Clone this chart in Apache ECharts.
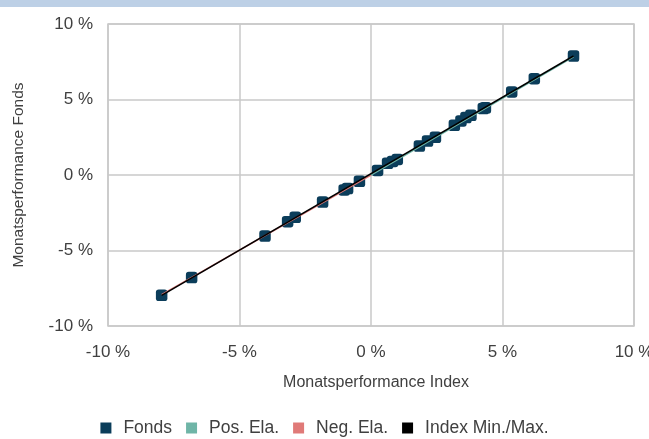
<!DOCTYPE html>
<html>
<head>
<meta charset="utf-8">
<script src="https://cdn.jsdelivr.net/npm/echarts@6/dist/echarts.min.js"></script>
<style>html,body{margin:0;padding:0;background:#fff}#c{width:649px;height:439px}</style>
</head>
<body>
<div id="c"></div>
<script>
// Monthly performance (%) — index (x) vs fund (y)
const fondsX = [-7.96, -6.82, -4.03, -3.17, -2.88, -1.84, -1.02, -0.89, -0.44, 0.25, 0.63, 0.82, 1.0, 1.84, 2.15, 2.45, 3.17, 3.42, 3.61, 3.8, 4.27, 4.35, 5.35, 6.21, 7.7];
const fondsY = [-7.97, -6.79, -4.04, -3.09, -2.80, -1.79, -0.99, -0.90, -0.42, 0.30, 0.77, 0.90, 1.03, 1.92, 2.25, 2.50, 3.29, 3.58, 3.80, 3.95, 4.40, 4.45, 5.50, 6.38, 7.88];
const posElaX = [0, 7.7];
const posElaY = [0, 7.82];
const negElaX = [-7.96, 0];
const negElaY = [-7.92, 0];
const indexMinMaxX = [-7.96, 7.7];
const indexMinMaxY = [-7.97, 7.88];
const axisTicks = [-10, -5, 0, 5, 10];
const seriesNames = ['Fonds', 'Pos. Ela.', 'Neg. Ela.', 'Index Min./Max.'];
const colors = ['#0b3d5a', '#6fb5a7', '#e07a78', '#000000'];

const pairs = (xs, ys) => xs.map((x, i) => [x, ys[i]]);
const font = 'Liberation Sans, Arial, sans-serif';
const chart = echarts.init(document.getElementById('c'), null, {renderer: 'canvas'});
chart.setOption({
  animation: false,
  textStyle: {fontFamily: font},
  graphic: [{type: 'rect', shape: {x: 0, y: 0, width: 649, height: 7}, style: {fill: '#bdd0e6'}, silent: true}],
  grid: {left: 108, right: 15, top: 24, bottom: 113, show: true, borderColor: '#c8c8c8', borderWidth: 1.5,
         containLabel: false, outerBoundsMode: 'none'},
  xAxis: {
    type: 'value', min: axisTicks[0], max: axisTicks[axisTicks.length - 1], interval: 5,
    name: 'Monatsperformance Index', nameLocation: 'middle', nameGap: 49,
    nameTextStyle: {fontSize: 16, color: '#404040', fontFamily: font, padding: [0, 0, 0, 10]},
    axisLine: {show: false}, axisTick: {show: false},
    axisLabel: {fontSize: 17, color: '#404040', margin: 18, fontFamily: font, formatter: v => v + ' %'},
    splitLine: {lineStyle: {color: '#c8c8c8', width: 1.5}}
  },
  yAxis: {
    type: 'value', min: axisTicks[0], max: axisTicks[axisTicks.length - 1], interval: 5,
    name: 'Monatsperformance Fonds', nameLocation: 'middle', nameGap: 81, nameRotate: 90,
    nameTextStyle: {fontSize: 15.5, color: '#404040', fontFamily: font},
    axisLine: {show: false}, axisTick: {show: false},
    axisLabel: {fontSize: 17, color: '#404040', margin: 15, fontFamily: font, formatter: v => v + ' %'},
    splitLine: {lineStyle: {color: '#c8c8c8', width: 1.5}}
  },
  legend: {
    bottom: 2, left: 'center', padding: 0, itemWidth: 11, itemHeight: 11, itemGap: 14,
    textStyle: {fontSize: 17.5, color: '#404040', fontFamily: font, padding: [0, 0, 0, 7]},
    data: seriesNames.map(n => ({name: n, icon: 'rect'}))
  },
  series: [
    {name: seriesNames[0], type: 'scatter', data: pairs(fondsX, fondsY), symbol: 'roundRect', symbolSize: 11.5,
     itemStyle: {color: colors[0], opacity: 1}, z: 2},
    {name: seriesNames[1], type: 'line', data: pairs(posElaX, posElaY), symbol: 'none',
     lineStyle: {color: colors[1], width: 1.5}, itemStyle: {color: colors[1]}, z: 3},
    {name: seriesNames[2], type: 'line', data: pairs(negElaX, negElaY), symbol: 'none',
     lineStyle: {color: colors[2], width: 1.5}, itemStyle: {color: colors[2]}, z: 3},
    {name: seriesNames[3], type: 'line', data: pairs(indexMinMaxX, indexMinMaxY), symbol: 'none',
     lineStyle: {color: colors[3], width: 1.5}, itemStyle: {color: colors[3]}, z: 4}
  ]
});
</script>
</body>
</html>
